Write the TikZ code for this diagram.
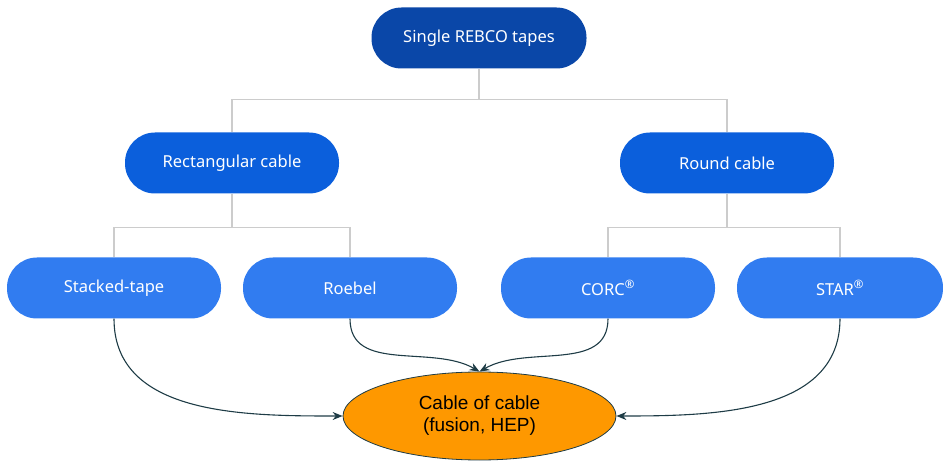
\documentclass[tikz,border=0pt]{standalone}
\usepackage{fontspec}
\usepackage{xcolor}
\usepackage{tikz}
\usetikzlibrary{shapes.geometric, arrows, arrows.meta}
\newfontfamily\boxfont{Noto Sans}
\newfontfamily\ovalfont{Liberation Sans}
\definecolor{tapeblue}{RGB}{10,71,168}
\definecolor{cableblue}{RGB}{11,95,220}
\definecolor{typeblue}{RGB}{49,124,240}
\definecolor{fusionorange}{RGB}{254,152,0}
\definecolor{linkgray}{RGB}{204,204,204}
\definecolor{curvedark}{RGB}{30,60,70}
\tikzstyle{tapebox} = [rectangle, rounded corners=30pt, minimum width=215pt, minimum height=61pt, text centered, fill=tapeblue, text=white, font=\boxfont\fontsize{16.5}{19}\selectfont]
\tikzstyle{cablebox} = [tapebox, minimum width=214pt, fill=cableblue]
\tikzstyle{typebox} = [tapebox, minimum width=214pt, fill=typeblue]
\tikzstyle{cableofcable} = [ellipse, minimum width=273pt, minimum height=88pt, inner sep=0pt, align=center, draw=curvedark, line width=0.8pt, fill=fusionorange, font=\ovalfont\fontsize{19}{22}\selectfont]
\tikzstyle{bus} = [draw=linkgray, line width=1.5pt]
\tikzstyle{arrow} = [line width=1.1pt, draw=curvedark, -{Stealth[length=10pt, width=8pt]}]

\begin{document}
\begin{tikzpicture}[x=1pt, y=1pt, node distance=125pt]
	\useasboundingbox (0,0) rectangle (943,461);
	
	\node (tapes) [tapebox] at (479,423) {Single REBCO tapes};
	\node (rect) [cablebox, below of=tapes, xshift=-247pt] {Rectangular cable};
	\node (round) [cablebox, below of=tapes, xshift=248pt] {Round cable};
	
	\draw [bus] (tapes.south) -- ++(0,-31) -| (rect.north);
	\draw [bus] (tapes.south) -- ++(0,-31) -| (round.north);
	
	\node (stacked) [typebox, below of=rect, xshift=-118pt] {Stacked-tape};
	\node (roebel) [typebox, below of=rect, xshift=118pt] {Roebel};
	\node (corc) [typebox, below of=round, xshift=-119pt] {CORC\textsuperscript{®}};
	\node (star) [typebox, minimum width=206pt, below of=round, xshift=113pt] {STAR\textsuperscript{®}};
	
	\draw [bus] (rect.south) -- ++(0,-34) -| (stacked.north);
	\draw [bus] (rect.south) -- ++(0,-34) -| (roebel.north);
	\draw [bus] (round.south) -- ++(0,-34) -| (corc.north);
	\draw [bus] (round.south) -- ++(0,-34) -| (star.north);
	
	\node (coc) [cableofcable] at (479.5,45) {Cable of cable\\(fusion, HEP)};
	
	\draw [arrow] (stacked.south) to [out=-90, in=180] (coc.west);
	\draw [arrow] (roebel.south) to [out=-90, in=150] (coc.north);
	\draw [arrow] (corc.south) to [out=-90, in=30] (coc.north);
	\draw [arrow] (star.south) to [out=-90, in=0] (coc.east);
	
\end{tikzpicture}
\end{document}
